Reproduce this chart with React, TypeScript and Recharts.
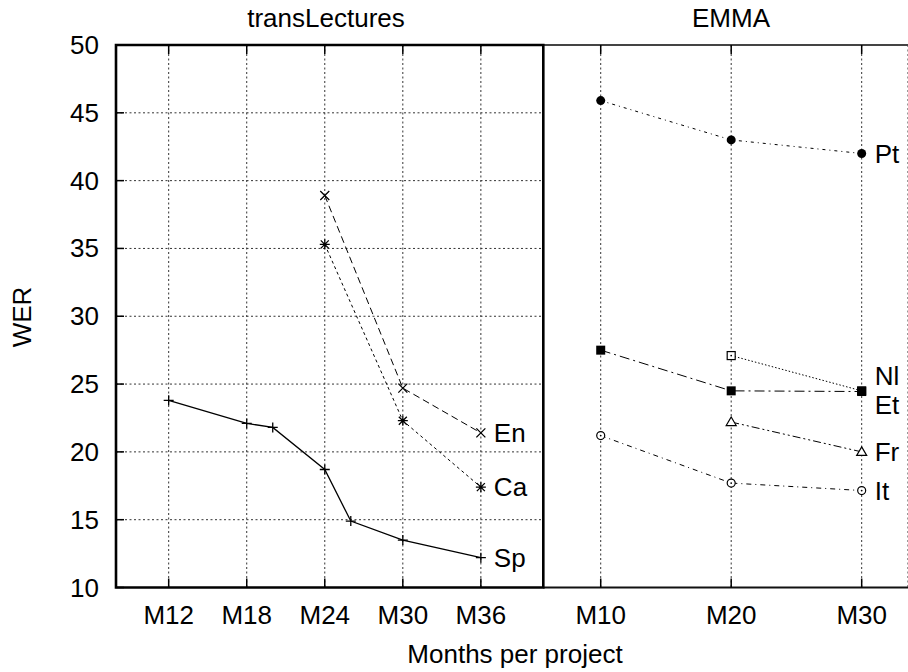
import React from 'react';
import { LineChart, Line, XAxis, YAxis, CartesianGrid, ReferenceArea, ReferenceLine } from 'recharts';

// ---------- data ----------
const yTicks = [10, 15, 20, 25, 30, 35, 40, 45, 50];
const tlTicks = [12, 18, 24, 30, 36];
const tlTickLabels = ['M12', 'M18', 'M24', 'M30', 'M36'];
const emmaTicks = [10, 20, 30];
const emmaTickLabels = ['M10', 'M20', 'M30'];

const spMonths = [12, 18, 20, 24, 26, 30, 36];
const spWER = [23.8, 22.1, 21.8, 18.7, 14.9, 13.5, 12.2];
const enCaMonths = [24, 30, 36];
const enWER = [38.9, 24.7, 21.4];
const caWER = [35.3, 22.3, 17.4];

const emmaMonths = [10, 20, 30];
const ptWER = [45.9, 43.0, 42.0];
const etWER = [27.5, 24.5, 24.45];
const nlMonths = [20, 30];
const nlWER = [27.1, 24.5];
const frMonths = [20, 30];
const frWER = [22.2, 20.0];
const itWER = [21.2, 17.7, 17.15];

const toData = (xs: number[], ys: number[]) => xs.map((m, i) => ({ m, wer: ys[i] }));

// ---------- layout ----------
const FONT = '"Liberation Sans", Arial, Helvetica, sans-serif';
const FS = 26;
const PLOT_TOP = 45;
const PLOT_BOTTOM = 587.5;
const LEFT_PLOT_LEFT = 116;
const LEFT_PLOT_RIGHT = 543.3;
const CHART_H = 672;
const XAXIS_H = 40;
const YAXIS_W = 60;
const LEFT_W = 560;
const RIGHT_X = 520;
const RIGHT_W = 908 - RIGHT_X;

const tlDomain = [7.95, 40.8];
const emmaDomain = [5.6, 33.55];

// ---------- markers ----------
const S = '#000';
const mk = (render: (cx: number, cy: number) => React.ReactNode) => (p: any) => (
  <g key={`d${p.index}`}>{p.cx != null && p.cy != null ? render(p.cx, p.cy) : null}</g>
);
const plus = mk((x, y) => <path d={`M${x - 5},${y}h10M${x},${y - 5}v10`} stroke={S} strokeWidth={1.3} fill="none" />);
const cross = mk((x, y) => <path d={`M${x - 4.5},${y - 4.5}l9,9M${x - 4.5},${y + 4.5}l9,-9`} stroke={S} strokeWidth={1.3} fill="none" />);
const star = mk((x, y) => (
  <path d={`M${x - 5},${y}h10M${x},${y - 5}v10M${x - 4},${y - 4}l8,8M${x - 4},${y + 4}l8,-8`} stroke={S} strokeWidth={1.3} fill="none" />
));
const fCircle = mk((x, y) => <circle cx={x} cy={y} r={4.5} fill={S} stroke="none" />);
const fSquare = mk((x, y) => <rect x={x - 4.5} y={y - 4.5} width={9} height={9} fill={S} />);
const oSquare = mk((x, y) => (
  <g>
    <rect x={x - 4} y={y - 4} width={8} height={8} fill="#fff" stroke={S} strokeWidth={1.2} />
    <circle cx={x} cy={y} r={0.9} fill={S} />
  </g>
));
const oTri = mk((x, y) => <path d={`M${x},${y - 5}L${x + 5},${y + 3.5}L${x - 5},${y + 3.5}Z`} fill="#fff" stroke={S} strokeWidth={1.2} />);
const oCircle = mk((x, y) => (
  <g>
    <circle cx={x} cy={y} r={4} fill="#fff" stroke={S} strokeWidth={1.2} />
    <circle cx={x} cy={y} r={0.9} fill={S} />
  </g>
));

const endLabel = (text: string, last: number, dy = 0) => (p: any) =>
  p.index === last ? (
    <text key={`l${p.index}`} x={p.x + 13} y={p.y + 9 + dy} fontSize={FS} fontFamily={FONT} fill="#000">
      {text}
    </text>
  ) : (
    <g key={`l${p.index}`} />
  );

// ---------- ticks ----------
const makeXTick = (ticks: number[], labels: string[]) => (props: any) => {
  const { x, payload } = props;
  const idx = ticks.indexOf(payload.value);
  return (
    <g>
      <line x1={x} x2={x} y1={PLOT_BOTTOM} y2={PLOT_BOTTOM - 9} stroke={S} strokeWidth={1.5} />
      <line x1={x} x2={x} y1={PLOT_TOP} y2={PLOT_TOP + 9} stroke={S} strokeWidth={1.5} />
      <text x={x} y={624} textAnchor="middle" fontSize={FS} fontFamily={FONT} fill="#000">
        {idx >= 0 ? labels[idx] : ''}
      </text>
    </g>
  );
};

const YTick = (props: any) => {
  const { y, payload } = props;
  return (
    <g>
      <line x1={LEFT_PLOT_LEFT} x2={LEFT_PLOT_LEFT + 8} y1={y} y2={y} stroke={S} strokeWidth={1.5} />
      <text x={99} y={y + 9} textAnchor="end" fontSize={FS} fontFamily={FONT} fill="#000">
        {payload.value}
      </text>
    </g>
  );
};

const grid = <CartesianGrid stroke="#333" strokeDasharray="2 2.5" strokeWidth={1} />;

export default function App() {
  return (
    <div style={{ position: 'absolute', left: 0, top: 0, width: 908, height: 672, background: '#fff', overflow: 'hidden' }}>
      {/* right panel: EMMA */}
      <div style={{ position: 'absolute', left: RIGHT_X, top: 0 }}>
        <LineChart
          width={RIGHT_W}
          height={CHART_H}
          margin={{ top: PLOT_TOP, right: 0, left: LEFT_PLOT_RIGHT - RIGHT_X, bottom: CHART_H - PLOT_BOTTOM - XAXIS_H }}
        >
          {grid}
          <XAxis
            dataKey="m"
            type="number"
            domain={emmaDomain}
            allowDataOverflow
            ticks={emmaTicks}
            interval={0}
            height={XAXIS_H}
            axisLine={false}
            tickLine={false}
            tickSize={0}
            tickMargin={0}
            tick={makeXTick(emmaTicks, emmaTickLabels)}
          />
          <YAxis type="number" domain={[10, 50]} ticks={yTicks} width={0} axisLine={false} tickLine={false} tick={false} allowDataOverflow />
          <ReferenceLine y={50} stroke="#444" strokeWidth={2} />
          <ReferenceLine y={10} stroke="#111" strokeWidth={2} />
          <Line data={toData(emmaMonths, ptWER)} dataKey="wer" stroke={S} strokeWidth={1} strokeDasharray="3 4 1 4" dot={fCircle} label={endLabel('Pt', 2)} isAnimationActive={false} />
          <Line data={toData(nlMonths, nlWER)} dataKey="wer" stroke={S} strokeWidth={1} strokeDasharray="1.5 2" dot={oSquare} label={endLabel('Nl', 1, -15)} isAnimationActive={false} />
          <Line data={toData(emmaMonths, etWER)} dataKey="wer" stroke={S} strokeWidth={1} strokeDasharray="10 4 2 4" dot={fSquare} label={endLabel('Et', 2, 13)} isAnimationActive={false} />
          <Line data={toData(frMonths, frWER)} dataKey="wer" stroke={S} strokeWidth={1} strokeDasharray="8 3 2 3 2 3" dot={oTri} label={endLabel('Fr', 1)} isAnimationActive={false} />
          <Line data={toData(emmaMonths, itWER)} dataKey="wer" stroke={S} strokeWidth={1} strokeDasharray="5 4 1 4" dot={oCircle} label={endLabel('It', 2)} isAnimationActive={false} />
        </LineChart>
      </div>

      {/* left panel: transLectures */}
      <div style={{ position: 'absolute', left: 0, top: 0 }}>
        <LineChart
          width={LEFT_W}
          height={CHART_H}
          margin={{ top: PLOT_TOP, right: LEFT_W - LEFT_PLOT_RIGHT, left: LEFT_PLOT_LEFT - YAXIS_W, bottom: CHART_H - PLOT_BOTTOM - XAXIS_H }}
        >
          {grid}
          <XAxis
            dataKey="m"
            type="number"
            domain={tlDomain}
            allowDataOverflow
            ticks={tlTicks}
            interval={0}
            height={XAXIS_H}
            axisLine={false}
            tickLine={false}
            tickSize={0}
            tickMargin={0}
            tick={makeXTick(tlTicks, tlTickLabels)}
          />
          <YAxis
            type="number"
            domain={[10, 50]}
            ticks={yTicks}
            interval={0}
            width={YAXIS_W}
            axisLine={false}
            tickLine={false}
            tickSize={0}
            tickMargin={0}
            tick={YTick}
            allowDataOverflow
          />
          <ReferenceArea x1={tlDomain[0]} x2={tlDomain[1]} y1={10} y2={50} fill="none" stroke={S} strokeWidth={2.6} ifOverflow="visible" />
          <Line data={toData(spMonths, spWER)} dataKey="wer" stroke={S} strokeWidth={1.3} dot={plus} label={endLabel('Sp', 6)} isAnimationActive={false} />
          <Line data={toData(enCaMonths, enWER)} dataKey="wer" stroke={S} strokeWidth={1} strokeDasharray="7 4" dot={cross} label={endLabel('En', 2)} isAnimationActive={false} />
          <Line data={toData(enCaMonths, caWER)} dataKey="wer" stroke={S} strokeWidth={1} strokeDasharray="3 3" dot={star} label={endLabel('Ca', 2)} isAnimationActive={false} />
        </LineChart>
      </div>

      {/* titles and axis labels */}
      <svg width={908} height={672} style={{ position: 'absolute', left: 0, top: 0, pointerEvents: 'none' }}>
        <g fontFamily={FONT} fontSize={FS} fill="#000">
          <text x={326} y={27} textAnchor="middle">transLectures</text>
          <text x={731} y={27} textAnchor="middle">EMMA</text>
          <text transform="translate(31,317) rotate(-90)" textAnchor="middle">WER</text>
          <text x={515} y={663} textAnchor="middle">Months per project</text>
        </g>
      </svg>
    </div>
  );
}
